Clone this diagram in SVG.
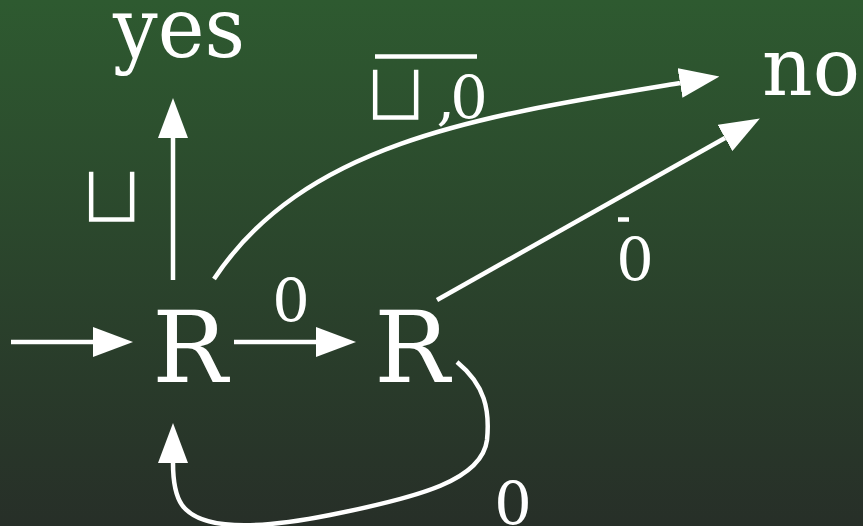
<svg xmlns="http://www.w3.org/2000/svg" width="863" height="526" viewBox="0 0 863 526">
<defs>
<linearGradient id="bg" gradientUnits="userSpaceOnUse" x1="0" y1="0" x2="0" y2="526">
<stop offset="0" stop-color="#2e5a30"/>
<stop offset="1" stop-color="#272f28"/>
</linearGradient>
<marker id="ah" markerUnits="userSpaceOnUse" markerWidth="40" markerHeight="30" refX="0" refY="15" orient="auto" viewBox="0 0 40 30">
<path d="M0,0 L40,15 L0,30 z" fill="#fff"/>
</marker>
<style>
.big{font-family:"DejaVu Serif","Liberation Serif",serif;fill:#fff}
.lbl{font-family:"DejaVu Serif","Liberation Serif",serif;font-size:59px;fill:#fff;text-anchor:middle}
.cup{font-family:"DejaVu Sans","Noto Sans",sans-serif;font-size:84px;fill:#fff;text-anchor:middle;stroke:url(#bg);stroke-width:2.5}
.edge{fill:none;stroke:#fff;stroke-width:4.5;marker-end:url(#ah)}
.bar{stroke:#fff;stroke-width:4.5}
</style>
</defs>
<rect width="863" height="526" fill="url(#bg)"/>
<g id="edges">
<path class="edge" d="M11 342 H93"/>
<path class="edge" d="M234 342 H316"/>
<path class="edge" d="M173 280 V138"/>
<path class="edge" d="M214 279 C305 142 480 116 680 83"/>
<path class="edge" d="M437 300 L725 138"/>
<path class="edge" d="M457 362 C485 385 490 410 487 440 C482 480 420 497 330 515 C255 530 200 530 182 505 C175 495 173 480 173 463"/>
</g>
<g id="labels">
<text class="cup" x="111.5" y="223">⊔</text>
<line class="bar" x1="375" y1="56.5" x2="477" y2="56.5"/>
<text class="cup" x="395.5" y="121">⊔</text>
<text class="lbl" x="446" y="119">,</text>
<text class="lbl" x="469" y="119">0</text>
<text class="lbl" x="291" y="322">0</text>
<line class="bar" x1="618" y1="219.5" x2="629" y2="219.5"/>
<text class="lbl" x="635" y="281">0</text>
<text class="lbl" x="513" y="525">0</text>
</g>
<g id="yes"><text class="big" x="113" y="57" font-size="85" textLength="132" lengthAdjust="spacingAndGlyphs">yes</text></g>
<g id="no"><text class="big" x="762" y="95" font-size="81" textLength="98" lengthAdjust="spacingAndGlyphs">no</text></g>
<g id="r1"><text class="big" x="190" y="382" font-size="100" text-anchor="middle">R</text></g>
<g id="r2"><text class="big" x="412" y="382" font-size="100" text-anchor="middle">R</text></g>
</svg>
